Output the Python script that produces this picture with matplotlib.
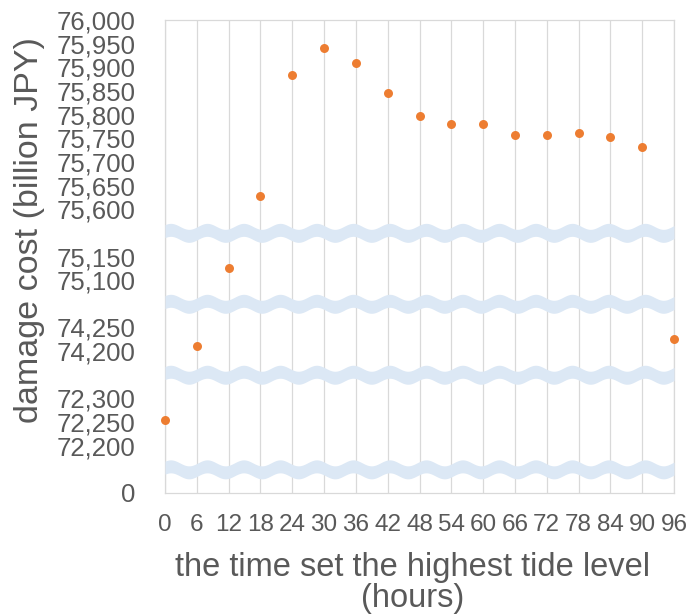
import numpy as np
import matplotlib
matplotlib.use("Agg")
import matplotlib.pyplot as plt
from matplotlib.ticker import FixedLocator, FuncFormatter

# ---- data ----
hours = [0, 6, 12, 18, 24, 30, 36, 42, 48, 54, 60, 66, 72, 78, 84, 90, 96]
damage_cost = [72254, 74210, 75125, 75627, 75883, 75941, 75910, 75846, 75798,
               75780, 75780, 75757, 75756, 75761, 75752, 75731, 74226]
x_ticks = [0, 6, 12, 18, 24, 30, 36, 42, 48, 54, 60, 66, 72, 78, 84, 90, 96]
y_tick_values = [0, 72200, 72250, 72300, 74200, 74250, 75100, 75150,
                 75600, 75650, 75700, 75750, 75800, 75850, 75900, 75950, 76000]
x_label = "the time set the highest tide level\n(hours)"
y_label = "damage cost (billion JPY)"

# ---- broken-axis scale (piecewise linear) ----
knot_vals = np.array([-72150, 0, 72150, 72340, 74160, 74290, 75060, 75190, 75560, 76000, 80000], float)
knot_pos = np.array([-1, 0, 1, 4.8, 5.2, 7.8, 8.2, 10.8, 11.2, 20, 100], float)
break_pos = [1, 5, 8, 11]
n_pos = 20


def fwd(v):
    return np.interp(v, knot_vals, knot_pos)


def inv(p):
    return np.interp(p, knot_pos, knot_vals)


TEXT = "#595959"
GRID = "#d9d9d9"
ORANGE = "#ED7D31"
BAND = "#dce8f5"
FONT = "Liberation Sans"

fig = plt.figure(figsize=(6.91, 6.16), dpi=100)
ax = fig.add_axes([165 / 691, 1 - 493 / 616, (674 - 165) / 691, (493 - 20) / 616])
ax.set_yscale("function", functions=(fwd, inv))
ax.set_xlim(0, 96)
ax.set_ylim(0, 76000)

ax.scatter(hours, damage_cost, s=42, color=ORANGE, zorder=5, clip_on=False, linewidths=0)

# ticks
ax.xaxis.set_major_locator(FixedLocator(x_ticks))
ax.yaxis.set_major_locator(FixedLocator(y_tick_values))
ax.yaxis.set_minor_locator(FixedLocator(inv(np.arange(n_pos + 1))))
ax.yaxis.set_major_formatter(FuncFormatter(lambda v, p: f"{int(round(v)):,}"))
ax.tick_params(axis="both", which="both", length=0)
ax.tick_params(axis="y", pad=21.5, labelsize=18.5, labelcolor=TEXT)
ax.tick_params(axis="x", pad=15, labelsize=17.5, labelcolor=TEXT)
for lab in ax.get_xticklabels() + ax.get_yticklabels():
    lab.set_fontfamily(FONT)

ax.grid(True, axis="x", which="major", color=GRID, lw=0.9, zorder=0)
ax.grid(True, axis="y", which="minor", color=GRID, lw=0.9, zorder=0)
ax.grid(False, axis="y", which="major")
ax.set_axisbelow(True)
for sp in ax.spines.values():
    sp.set_color(GRID)
    sp.set_linewidth(0.9)

# wavy break bands (axes coordinates)
xs = np.linspace(0, 1, 600)
ax_h_px = 493 - 20
ax_w_px = 674 - 165
half = 6.5 / ax_h_px
amp = 3.0 / ax_h_px
period = 36.5 / ax_w_px
for bp in break_pos:
    c = bp / n_pos + amp * np.sin(2 * np.pi * xs / period + 0.6)
    ax.fill_between(xs, c - half, c + half, color=BAND, lw=0,
                    transform=ax.transAxes, zorder=3)

fig.text(30 / 691, 1 - 230 / 616, y_label, rotation=90, ha="center", va="center",
         fontsize=24.5, color=TEXT, family=FONT)
fig.text(412.5 / 691, 1 - 552 / 616, x_label, ha="center", va="top",
         fontsize=23.5, color=TEXT, family=FONT, linespacing=1.02)

fig.savefig("out.png", dpi=100, facecolor="white")
